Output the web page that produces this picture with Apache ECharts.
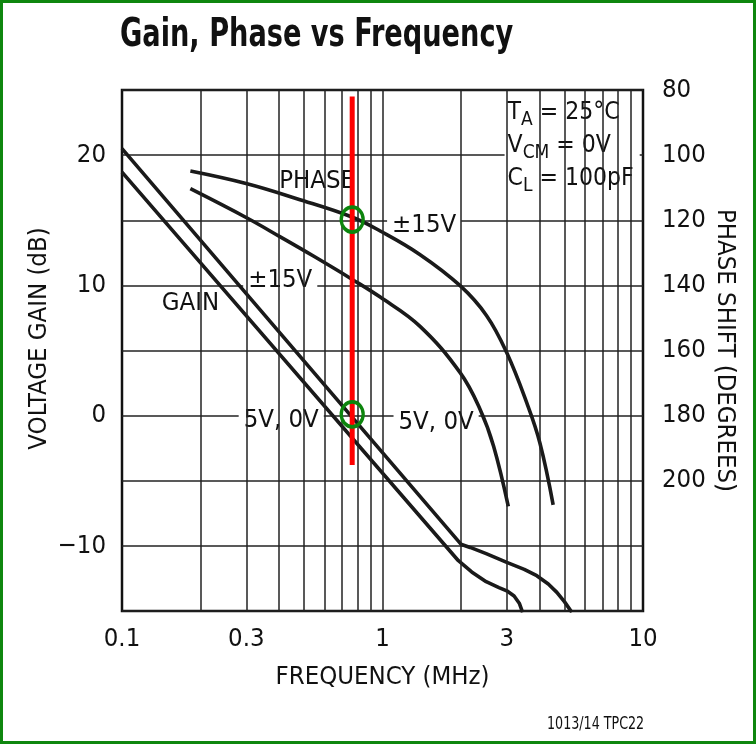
<!DOCTYPE html>
<html><head><meta charset="utf-8">
<script src="https://cdn.jsdelivr.net/npm/echarts@6/dist/echarts.min.js"></script>
<style>
html,body{margin:0;padding:0;background:#fff;}
#chart{position:absolute;left:0;top:0;width:756px;height:744px;}
#frame{position:absolute;left:0;top:0;width:756px;height:744px;box-sizing:border-box;border:3px solid #0f870f;pointer-events:none;}
</style></head><body>
<div id="chart"></div><div id="frame"></div>
<script>
const FONT = "'Liberation Sans Narrow','Arial Narrow','DejaVu Sans Condensed',sans-serif";

// Frequencies (MHz) and values
const gainHiFreq = [0.1, 2.0, 2.17, 2.5, 3.0, 3.5, 3.91, 4.33, 4.67, 5.0, 5.33];
const gainHiDb   = [20.5, -9.87, -10.12, -10.6, -11.27, -11.8, -12.29, -12.93, -13.57, -14.3, -15.1];
const gainLoFreq = [0.1, 1.956, 2.2, 2.5, 2.8, 3.0, 3.2, 3.35, 3.45];
const gainLoDb   = [18.7, -11.14, -12.0, -12.75, -13.2, -13.45, -13.85, -14.4, -15.1];
const phaseHiFreq = [0.183, 0.302, 0.469, 0.763, 0.98, 1.39, 1.986, 2.51, 3.0, 3.58, 4.02, 4.52];
const phaseHiDeg  = [104.9, 108.8, 113.4, 119.0, 123.3, 130.5, 140.1, 149.3, 160.7, 176.1, 188.4, 207.4];
const phaseLoFreq = [0.183, 0.302, 0.405, 0.543, 0.763, 0.98, 1.39, 1.986, 2.37, 2.67, 3.04];
const phaseLoDeg  = [110.3, 119.3, 125.1, 131.0, 138.1, 143.6, 152.5, 166.8, 178.1, 189.4, 207.9];

// Red marker line and green circles
const markerFreq = 0.765;
const markerDbRange = [24.5, -3.8];
const circleDb = [15.05, 0.1];

// Axis ticks / grid
const xTickLabels = [0.1, 0.3, 1, 3, 10];
const xGridFreqs = [0.2,0.3,0.4,0.5,0.6,0.7,0.8,0.9,1,2,3,4,5,6,7,8,9];
const yLabelValues = [20, 10, 0, -10];
const phaseLabelValues = [80, 100, 120, 140, 160, 180, 200];

// Annotations (text, frequency, dB on left axis)
const annoText = ['PHASE', '±15V', '±15V', 'GAIN', '5V, 0V', '5V, 0V'];
const annoFreq = [0.5614, 1.445, 0.405, 0.183, 0.4086, 1.606];
const annoDb   = [17.96, 14.59, 10.38, 8.61, -0.33, -0.48];
const condFreq = 2.955, condDb = 24.46;

const zip = (a, b) => a.map((v, i) => [v, b[i]]);
const minus = v => (v < 0 ? '\u2212' + Math.abs(v) : String(v));

const chart = echarts.init(document.getElementById('chart'));
const FS = 25.5;
const txt = {fontFamily: FONT, fontSize: FS, color: '#111'};
const curve = {type: 'line', symbol: 'none', silent: true, z: 4,
  lineStyle: {color: '#1a1a1a', width: 3.6}, itemStyle: {color: '#1a1a1a'}};

chart.setOption({
  animation: false,
  backgroundColor: '#fff',
  graphic: [
    {type: 'text', x: 120, y: 16, scaleX: 0.775, silent: true,
     style: {text: 'Gain, Phase vs Frequency', fill: '#111',
       font: 'bold 39px ' + FONT, align: 'left', verticalAlign: 'top'}},
    {type: 'text', x: 547, y: 716, scaleX: 0.83, silent: true,
     style: {text: '1013/14 TPC22', fill: '#111',
       font: '17px ' + FONT, align: 'left', verticalAlign: 'top'}}
  ],
  grid: {left: 122, right: 113, top: 90, bottom: 133, show: true,
         borderColor: '#111', borderWidth: 2.5, backgroundColor: 'transparent'},
  xAxis: {
    type: 'log', logBase: 10, min: 0.1, max: 10,
    axisLine: {show: false}, axisTick: {show: false}, splitLine: {show: false},
    axisLabel: Object.assign({customValues: xTickLabels, margin: 15,
      formatter: v => String(Number(Number(v).toPrecision(3)))}, txt),
    name: 'FREQUENCY (MHz)', nameLocation: 'middle', nameGap: 53, nameMoveOverlap: false,
    nameTextStyle: txt
  },
  yAxis: [
    {type: 'value', min: -15, max: 25, interval: 5, position: 'left',
     axisLine: {show: false}, axisTick: {show: false},
     splitLine: {show: true, lineStyle: {color: '#222', width: 1.5}},
     axisLabel: Object.assign({margin: 16,
       formatter: v => (yLabelValues.indexOf(v) >= 0 ? minus(v) : '')}, txt),
     name: 'VOLTAGE GAIN (dB)', nameLocation: 'middle', nameGap: 70, nameRotate: 90,
     nameMoveOverlap: false,
     nameTextStyle: Object.assign({padding: [0, 0, 0, 24]}, txt)},
    {type: 'value', min: 80, max: 240, interval: 20, inverse: true, position: 'right',
     axisLine: {show: false}, axisTick: {show: false}, splitLine: {show: false},
     axisLabel: Object.assign({margin: 19,
       formatter: v => (phaseLabelValues.indexOf(v) >= 0 ? String(v) : '')}, txt),
     name: 'PHASE SHIFT (DEGREES)', nameLocation: 'middle', nameGap: 69, nameRotate: -90,
     nameMoveOverlap: false,
     nameTextStyle: txt}
  ],
  series: [
    {type: 'line', data: [], z: 1, silent: true, symbol: 'none',
     markLine: {symbol: 'none', silent: true, label: {show: false}, animation: false,
       lineStyle: {color: '#222', width: 1.5, type: 'solid'},
       data: xGridFreqs.map(f => ({xAxis: f}))}},
    {type: 'scatter', z: 3, silent: true, symbolSize: 1,
     itemStyle: {color: '#fff', opacity: 1},
     data: annoText.map((t, i) => ({value: [annoFreq[i], annoDb[i]], name: t})),
     label: Object.assign({show: true, position: 'inside', formatter: p => p.name,
       backgroundColor: '#fff', padding: [3, 5]}, txt)},
    {type: 'scatter', z: 3, silent: true, symbolSize: 1,
     itemStyle: {color: '#fff', opacity: 1},
     data: [[condFreq, condDb]],
     label: {show: true, position: [0, 0], align: 'left', verticalAlign: 'top',
       backgroundColor: '#fff', padding: [0, 6, 6, 3],
       formatter: '{n|T}{s|A}{n| = 25°C}\n{n|V}{s|CM}{n| = 0V}\n{n|C}{s|L}{n| = 100pF}',
       rich: {
         n: {fontFamily: FONT, fontSize: 24.5, color: '#111', lineHeight: 33},
         s: {fontFamily: FONT, fontSize: 19, color: '#111', lineHeight: 18, verticalAlign: 'bottom'}
       }}},
    Object.assign({name: 'gain15', data: zip(gainHiFreq, gainHiDb), yAxisIndex: 0}, curve),
    Object.assign({name: 'gain5', data: zip(gainLoFreq, gainLoDb), yAxisIndex: 0}, curve),
    Object.assign({name: 'phase15', data: zip(phaseHiFreq, phaseHiDeg), yAxisIndex: 1, smooth: 0.4}, curve),
    Object.assign({name: 'phase5', data: zip(phaseLoFreq, phaseLoDeg), yAxisIndex: 1, smooth: 0.4}, curve),
    {type: 'line', z: 6, silent: true, symbol: 'none',
     data: markerDbRange.map(d => [markerFreq, d]),
     lineStyle: {color: '#ff0000', width: 5}},
    {type: 'scatter', z: 7, silent: true, symbol: 'circle', symbolSize: [22, 25],
     data: circleDb.map(d => [markerFreq, d]),
     itemStyle: {color: 'rgba(0,0,0,0)', borderColor: '#0d850d', borderWidth: 3.5, opacity: 1}}
  ]
});
</script></body></html>
